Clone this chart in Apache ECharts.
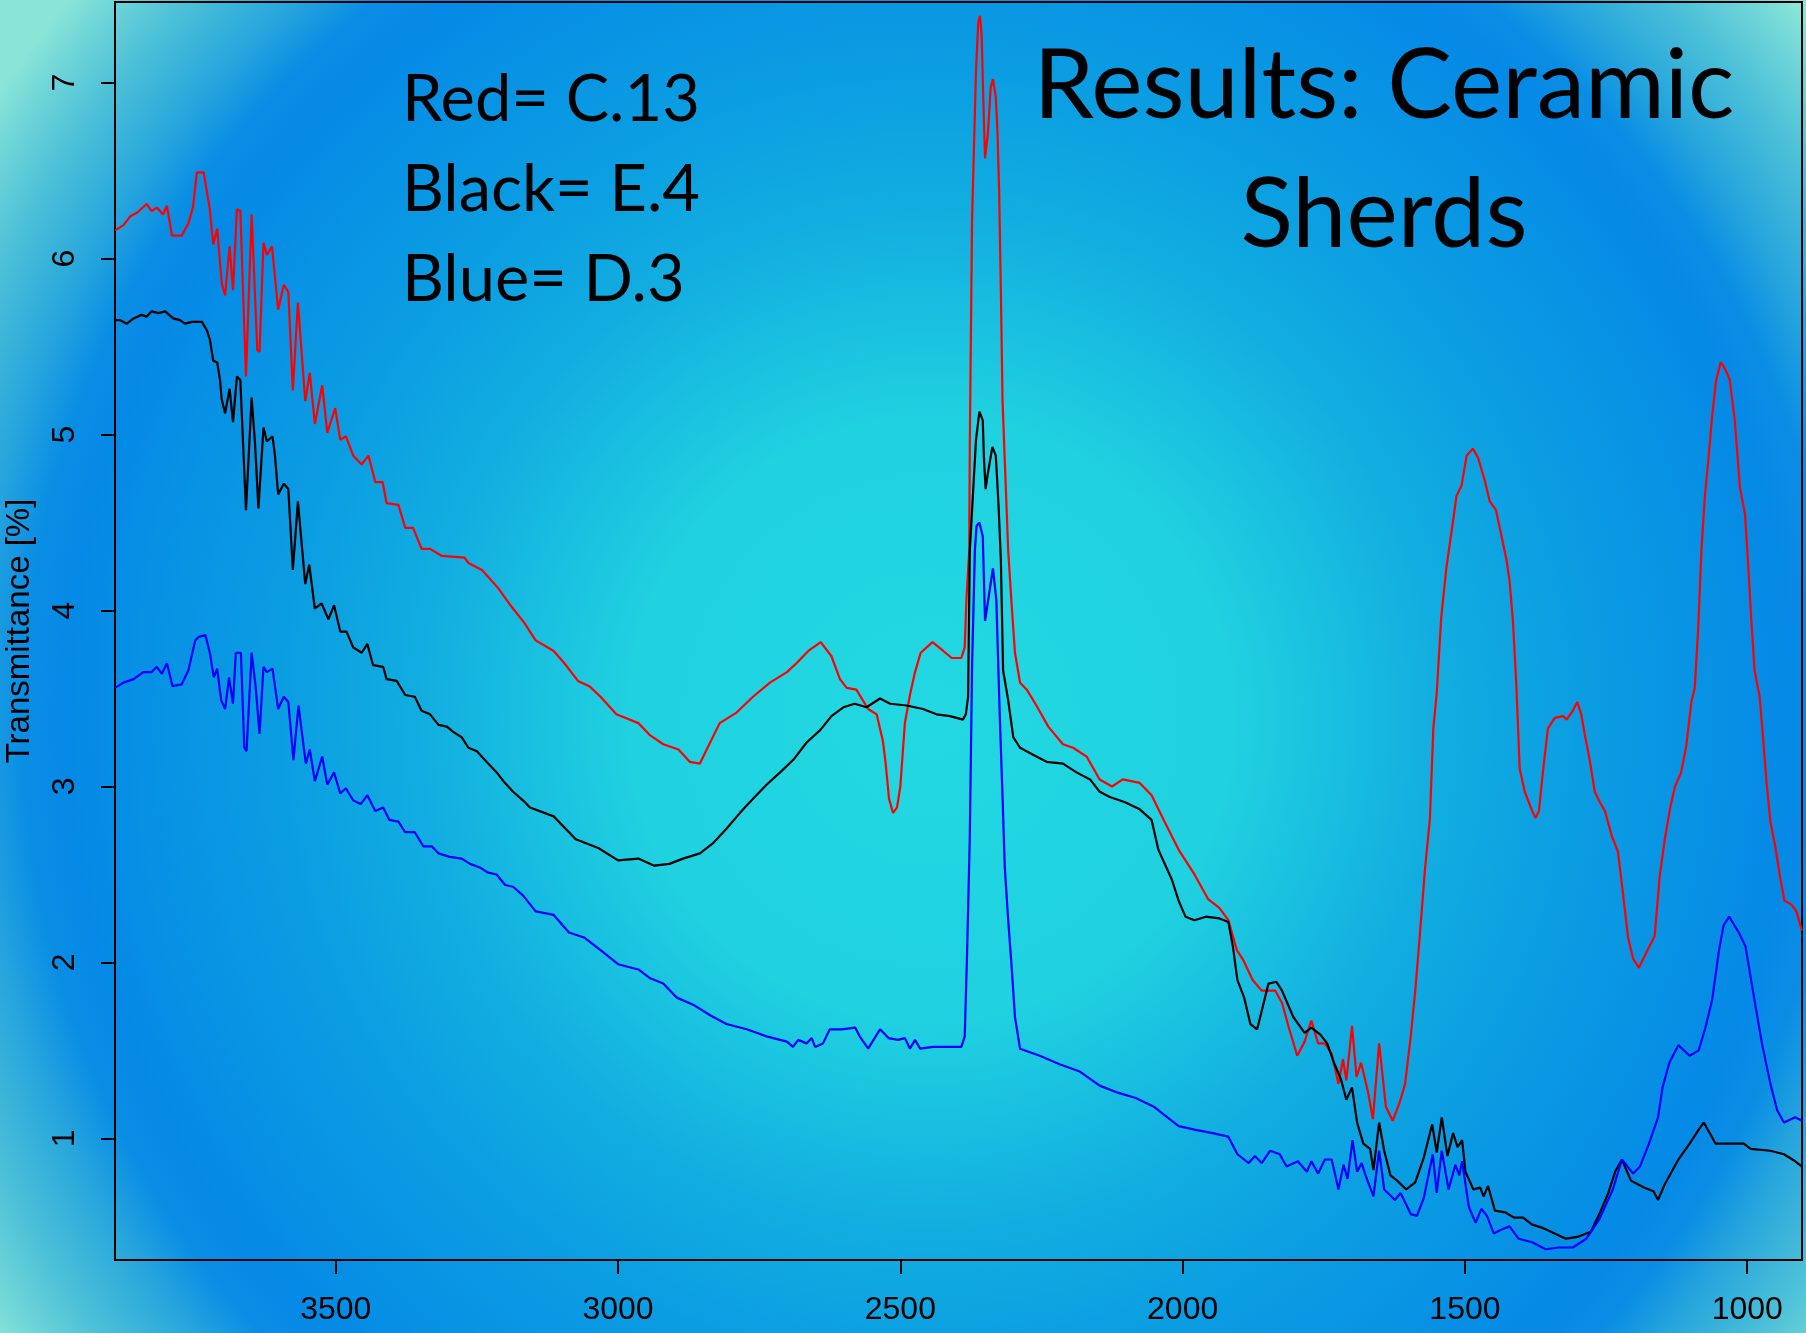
<!DOCTYPE html>
<html>
<head>
<meta charset="utf-8">
<style>
html,body{margin:0;padding:0;background:#0a8ee4;}
#chart{width:1806px;height:1333px;}
</style>
<script src="https://cdn.jsdelivr.net/npm/echarts@6/dist/echarts.min.js"></script>
</head>
<body>
<div id="chart"></div>
<script>
const xTicks = [1000, 1500, 2000, 2500, 3000, 3500];
const yTicks = [1, 2, 3, 4, 5, 6, 7];
const legendLines = ['Red= C.13', 'Black= E.4', 'Blue= D.3'];
const titleLines = ['Results: Ceramic', 'Sherds'];
const yName = 'Transmittance [%]';

const redC13 = [[3891,6.16],[3876,6.19],[3864,6.24],[3852,6.26],[3835,6.31],[3826,6.27],[3817,6.29],[3806,6.25],[3799,6.30],[3790,6.13],[3773,6.13],[3761,6.20],[3753,6.29],[3746,6.49],[3734,6.49],[3723,6.28],[3717,6.08],[3710,6.17],[3702,5.86],[3696,5.79],[3688,6.07],[3682,5.82],[3675,6.28],[3669,6.27],[3659,5.33],[3649,6.25],[3639,5.48],[3635,5.47],[3628,6.09],[3622,6.02],[3613,6.07],[3602,5.71],[3592,5.85],[3584,5.81],[3576,5.25],[3567,5.75],[3554,5.19],[3546,5.35],[3537,5.06],[3524,5.28],[3515,5.01],[3501,5.15],[3492,4.97],[3482,4.99],[3469,4.88],[3454,4.83],[3442,4.88],[3430,4.73],[3417,4.73],[3410,4.61],[3389,4.60],[3377,4.47],[3363,4.47],[3348,4.35],[3333,4.35],[3312,4.31],[3272,4.30],[3265,4.27],[3241,4.23],[3213,4.13],[3193,4.04],[3166,3.93],[3146,3.83],[3114,3.77],[3095,3.70],[3071,3.60],[3051,3.57],[3031,3.51],[3003,3.41],[2964,3.36],[2943,3.29],[2920,3.24],[2893,3.21],[2873,3.14],[2855,3.13],[2843,3.21],[2820,3.36],[2790,3.42],[2761,3.51],[2731,3.59],[2701,3.65],[2684,3.70],[2663,3.77],[2641,3.82],[2622,3.74],[2607,3.61],[2595,3.56],[2578,3.55],[2557,3.44],[2542,3.41],[2531,3.26],[2526,3.13],[2520,2.93],[2513,2.85],[2506,2.88],[2500,3.00],[2492,3.36],[2483,3.52],[2474,3.65],[2464,3.76],[2443,3.82],[2424,3.77],[2409,3.73],[2392,3.73],[2386,3.79],[2383,4.06],[2378,4.34],[2377,4.93],[2373,6.22],[2366,7.07],[2362,7.34],[2359,7.38],[2356,7.27],[2353,6.90],[2350,6.57],[2345,6.71],[2340,6.97],[2336,7.02],[2331,6.92],[2328,6.72],[2325,6.38],[2322,5.82],[2319,5.19],[2309,4.34],[2303,4.04],[2297,3.76],[2288,3.59],[2276,3.55],[2259,3.46],[2238,3.34],[2212,3.24],[2194,3.22],[2170,3.17],[2147,3.04],[2125,3.00],[2106,3.04],[2076,3.02],[2055,2.95],[2032,2.80],[2007,2.64],[1979,2.50],[1955,2.36],[1935,2.31],[1919,2.24],[1904,2.07],[1892,2.01],[1876,1.90],[1860,1.84],[1836,1.84],[1824,1.77],[1812,1.63],[1797,1.47],[1784,1.55],[1772,1.67],[1760,1.54],[1748,1.54],[1736,1.48],[1724,1.31],[1716,1.45],[1710,1.33],[1700,1.64],[1692,1.35],[1684,1.43],[1672,1.27],[1663,1.11],[1652,1.54],[1640,1.18],[1628,1.10],[1616,1.20],[1606,1.31],[1596,1.58],[1588,1.84],[1580,2.15],[1571,2.52],[1562,2.82],[1556,3.33],[1550,3.53],[1542,3.96],[1533,4.24],[1521,4.51],[1515,4.65],[1506,4.71],[1497,4.88],[1486,4.92],[1477,4.87],[1465,4.74],[1456,4.62],[1445,4.57],[1435,4.42],[1426,4.28],[1421,4.17],[1415,3.94],[1409,3.58],[1403,3.10],[1394,2.97],[1382,2.87],[1375,2.82],[1369,2.86],[1362,3.08],[1353,3.33],[1341,3.39],[1326,3.40],[1320,3.38],[1309,3.43],[1301,3.48],[1294,3.41],[1288,3.30],[1279,3.15],[1270,2.97],[1261,2.91],[1252,2.86],[1240,2.72],[1229,2.63],[1220,2.39],[1211,2.14],[1202,2.02],[1192,1.97],[1178,2.06],[1164,2.15],[1155,2.49],[1146,2.70],[1137,2.87],[1128,3.00],[1117,3.08],[1108,3.23],[1099,3.48],[1093,3.56],[1087,3.89],[1081,4.35],[1075,4.65],[1069,4.85],[1062,5.11],[1055,5.31],[1047,5.41],[1042,5.39],[1036,5.35],[1031,5.31],[1022,5.08],[1013,4.70],[1004,4.55],[998,4.24],[993,3.96],[987,3.66],[978,3.51],[972,3.28],[966,3.03],[959,2.80],[951,2.67],[942,2.49],[934,2.35],[922,2.33],[913,2.29],[903,2.18]];

const blackE4 = [[3891,5.65],[3882,5.65],[3870,5.63],[3858,5.66],[3844,5.68],[3835,5.67],[3826,5.70],[3814,5.69],[3802,5.70],[3788,5.66],[3776,5.65],[3767,5.63],[3755,5.64],[3737,5.64],[3728,5.59],[3723,5.54],[3717,5.42],[3710,5.41],[3705,5.31],[3702,5.20],[3696,5.12],[3688,5.26],[3682,5.07],[3675,5.33],[3669,5.31],[3665,5.01],[3659,4.57],[3649,5.21],[3643,4.95],[3637,4.58],[3628,5.04],[3622,4.96],[3612,4.99],[3608,4.89],[3602,4.66],[3592,4.72],[3584,4.69],[3576,4.23],[3567,4.62],[3554,4.15],[3547,4.26],[3537,4.01],[3525,4.04],[3513,3.95],[3503,4.03],[3492,3.88],[3481,3.88],[3469,3.79],[3454,3.76],[3444,3.81],[3434,3.69],[3416,3.68],[3410,3.61],[3392,3.60],[3377,3.52],[3360,3.51],[3348,3.43],[3333,3.41],[3318,3.35],[3303,3.34],[3292,3.31],[3277,3.28],[3265,3.22],[3250,3.20],[3233,3.14],[3215,3.08],[3203,3.03],[3186,2.97],[3168,2.92],[3156,2.88],[3114,2.83],[3075,2.70],[3035,2.65],[3000,2.58],[2964,2.59],[2936,2.55],[2909,2.56],[2885,2.59],[2855,2.62],[2831,2.68],[2808,2.76],[2784,2.85],[2761,2.93],[2737,3.01],[2713,3.08],[2690,3.15],[2666,3.25],[2642,3.32],[2622,3.40],[2601,3.45],[2581,3.47],[2560,3.45],[2536,3.50],[2518,3.47],[2489,3.46],[2460,3.44],[2436,3.41],[2412,3.40],[2389,3.38],[2384,3.41],[2380,3.51],[2377,4.34],[2374,4.51],[2366,4.97],[2360,5.13],[2354,5.08],[2352,4.87],[2349,4.69],[2346,4.76],[2337,4.93],[2331,4.88],[2329,4.77],[2326,4.59],[2322,4.29],[2318,3.66],[2309,3.49],[2300,3.28],[2288,3.22],[2265,3.18],[2241,3.14],[2212,3.13],[2188,3.08],[2164,3.04],[2147,2.97],[2129,2.94],[2102,2.91],[2076,2.87],[2055,2.81],[2043,2.64],[2019,2.47],[2007,2.35],[1995,2.26],[1979,2.24],[1959,2.26],[1935,2.25],[1919,2.23],[1911,2.09],[1903,1.90],[1891,1.80],[1880,1.65],[1868,1.62],[1858,1.75],[1848,1.88],[1834,1.89],[1824,1.84],[1804,1.69],[1784,1.60],[1772,1.63],[1756,1.59],[1744,1.54],[1732,1.43],[1720,1.34],[1710,1.22],[1700,1.29],[1691,1.09],[1680,0.97],[1668,0.94],[1662,0.82],[1652,1.09],[1643,0.93],[1632,0.79],[1620,0.76],[1604,0.71],[1588,0.75],[1573,0.89],[1558,1.08],[1550,0.92],[1541,1.12],[1531,0.90],[1521,1.03],[1513,0.95],[1505,0.99],[1499,0.81],[1485,0.71],[1473,0.72],[1467,0.67],[1459,0.73],[1447,0.59],[1429,0.58],[1413,0.55],[1397,0.55],[1381,0.51],[1361,0.49],[1341,0.46],[1321,0.43],[1301,0.44],[1277,0.47],[1262,0.57],[1246,0.69],[1234,0.81],[1222,0.88],[1206,0.76],[1182,0.72],[1166,0.70],[1158,0.65],[1146,0.74],[1122,0.88],[1102,0.97],[1086,1.05],[1077,1.09],[1056,0.97],[1006,0.97],[994,0.94],[959,0.93],[935,0.91],[915,0.87],[903,0.84]];

const blueD3 = [[3891,3.56],[3876,3.59],[3858,3.61],[3841,3.65],[3826,3.65],[3817,3.68],[3808,3.64],[3799,3.70],[3789,3.57],[3773,3.58],[3761,3.66],[3749,3.83],[3743,3.85],[3731,3.86],[3723,3.76],[3716,3.62],[3710,3.67],[3703,3.49],[3696,3.44],[3689,3.62],[3682,3.47],[3677,3.76],[3668,3.76],[3662,3.22],[3658,3.20],[3649,3.76],[3642,3.57],[3635,3.30],[3628,3.68],[3622,3.65],[3612,3.67],[3602,3.44],[3592,3.51],[3584,3.48],[3575,3.15],[3566,3.46],[3553,3.13],[3546,3.21],[3537,3.03],[3524,3.17],[3515,3.01],[3503,3.08],[3492,2.96],[3482,2.99],[3469,2.92],[3456,2.90],[3444,2.95],[3430,2.86],[3416,2.88],[3405,2.81],[3389,2.80],[3377,2.74],[3360,2.74],[3345,2.66],[3330,2.66],[3318,2.62],[3298,2.60],[3277,2.59],[3262,2.56],[3245,2.54],[3230,2.51],[3215,2.50],[3200,2.44],[3186,2.43],[3168,2.38],[3146,2.29],[3114,2.27],[3087,2.17],[3059,2.14],[3031,2.07],[3000,1.99],[2964,1.96],[2943,1.91],[2920,1.88],[2896,1.80],[2867,1.76],[2837,1.70],[2808,1.65],[2772,1.62],[2737,1.58],[2701,1.55],[2690,1.52],[2681,1.56],[2666,1.54],[2657,1.57],[2651,1.52],[2637,1.54],[2625,1.62],[2604,1.62],[2580,1.63],[2572,1.58],[2557,1.51],[2536,1.62],[2521,1.57],[2504,1.56],[2492,1.57],[2483,1.51],[2474,1.56],[2465,1.51],[2442,1.52],[2418,1.52],[2392,1.52],[2386,1.58],[2382,2.03],[2377,2.71],[2373,3.68],[2368,4.34],[2365,4.48],[2360,4.50],[2354,4.42],[2350,3.94],[2336,4.24],[2330,4.06],[2324,3.41],[2319,2.94],[2315,2.54],[2309,2.24],[2303,1.98],[2297,1.69],[2288,1.51],[2253,1.47],[2217,1.42],[2182,1.38],[2147,1.30],[2115,1.26],[2083,1.23],[2051,1.18],[2027,1.12],[2007,1.07],[1979,1.05],[1947,1.03],[1919,1.01],[1903,0.91],[1883,0.86],[1872,0.90],[1860,0.86],[1845,0.93],[1828,0.91],[1816,0.84],[1796,0.87],[1780,0.81],[1772,0.87],[1760,0.80],[1748,0.88],[1736,0.88],[1724,0.71],[1715,0.85],[1708,0.77],[1699,0.99],[1691,0.81],[1683,0.86],[1676,0.79],[1662,0.67],[1652,0.93],[1643,0.71],[1624,0.65],[1614,0.69],[1596,0.57],[1585,0.56],[1573,0.66],[1557,0.91],[1550,0.69],[1541,0.93],[1529,0.71],[1517,0.85],[1510,0.79],[1505,0.87],[1493,0.61],[1481,0.52],[1471,0.60],[1461,0.56],[1449,0.46],[1437,0.48],[1421,0.50],[1405,0.43],[1381,0.41],[1357,0.37],[1334,0.38],[1309,0.38],[1285,0.43],[1262,0.54],[1238,0.71],[1222,0.88],[1202,0.80],[1190,0.84],[1174,0.97],[1158,1.12],[1150,1.29],[1138,1.43],[1122,1.53],[1102,1.47],[1086,1.50],[1074,1.63],[1062,1.79],[1050,2.07],[1042,2.21],[1032,2.26],[1015,2.17],[1003,2.09],[990,1.84],[974,1.54],[959,1.31],[947,1.16],[935,1.09],[915,1.12],[903,1.10]];

const chart = echarts.init(document.getElementById('chart'), null, {renderer: 'canvas'});

const bg = {
  type: 'radial', x: 0.515, y: 0.54, r: 0.8417,
  colorStops: [
    {offset: 0.00, color: '#22d8e2'},
    {offset: 0.27, color: '#20d1e0'},
    {offset: 0.45, color: '#12aee0'},
    {offset: 0.58, color: '#0b9de2'},
    {offset: 0.69, color: '#0892e4'},
    {offset: 0.77, color: '#0589e6'},
    {offset: 0.81, color: '#0a8ee4'},
    {offset: 0.86, color: '#2aa8dc'},
    {offset: 0.92, color: '#4cc0d8'},
    {offset: 0.97, color: '#70d6d8'},
    {offset: 1.00, color: '#8ae4d8'}
  ]
};

const textGraphics = [];
legendLines.forEach((t, i) => {
  textGraphics.push({
    type: 'text', x: 402, y: 100 + i * 90, z: 100,
    style: {text: t, fontSize: 65, fontFamily: 'Lato', fill: '#000', align: 'left', verticalAlign: 'middle'}
  });
});
titleLines.forEach((t, i) => {
  textGraphics.push({
    type: 'text', x: 1384, y: 87 + i * 129, z: 100,
    style: {text: t, fontSize: 97, fontFamily: 'Lato', fill: '#000', align: 'center', verticalAlign: 'middle'}
  });
});

const axisFont = 'Liberation Sans';
const plain = v => String(v);

chart.setOption({
  backgroundColor: bg,
  animation: false,
  grid: {left: 115, right: 4, top: 2, bottom: 73, outerBoundsMode: 'none', containLabel: false, show: true, borderColor: '#000', borderWidth: 2, backgroundColor: 'transparent'},
  xAxis: {
    type: 'value', inverse: true, min: 903, max: 3891,
    splitLine: {show: false},
    axisLine: {show: true, lineStyle: {color: '#000', width: 2}},
    axisTick: {show: true, customValues: xTicks, length: 14, lineStyle: {color: '#000', width: 2}},
    axisLabel: {show: true, customValues: xTicks, formatter: plain, fontSize: 32, fontFamily: axisFont, color: '#000', margin: 34}
  },
  yAxis: {
    type: 'value', min: 0.309, max: 7.458,
    name: yName, nameLocation: 'middle', nameGap: 79, nameRotate: 90,
    nameTextStyle: {fontSize: 33, fontFamily: axisFont, color: '#000'},
    splitLine: {show: false},
    axisLine: {show: true, lineStyle: {color: '#000', width: 2}},
    axisTick: {show: true, customValues: yTicks, length: 14, lineStyle: {color: '#000', width: 2}},
    axisLabel: {show: true, customValues: yTicks, formatter: plain, rotate: 90, fontSize: 32, fontFamily: axisFont, color: '#000', margin: 34}
  },
  graphic: textGraphics,
  series: [
    {name: 'Red= C.13', type: 'line', data: redC13, showSymbol: false, lineStyle: {color: '#ff0000', width: 2.2}, itemStyle: {color: '#ff0000'}, z: 3},
    {name: 'Black= E.4', type: 'line', data: blackE4, showSymbol: false, lineStyle: {color: '#000000', width: 2.2}, itemStyle: {color: '#000000'}, z: 4},
    {name: 'Blue= D.3', type: 'line', data: blueD3, showSymbol: false, lineStyle: {color: '#0000ff', width: 2.2}, itemStyle: {color: '#0000ff'}, z: 5}
  ]
});
</script>
</body>
</html>
